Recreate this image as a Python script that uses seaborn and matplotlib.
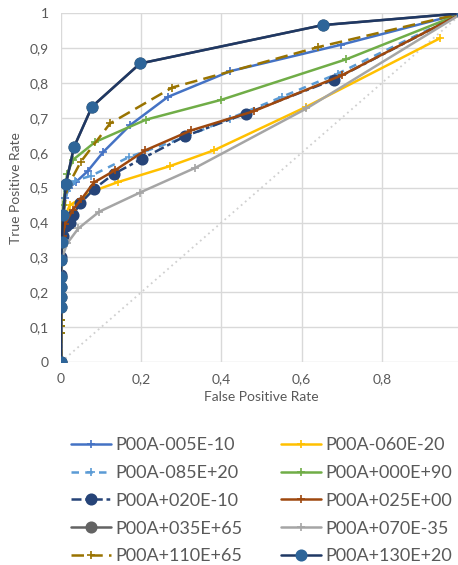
import pandas as pd
import seaborn as sns
import matplotlib.pyplot as plt

# ROC points (x = FPR, y = TPR)
names = ["P00A-005E-10", "P00A-060E-20", "P00A-085E+20", "P00A+000E+90", "P00A+020E-10",
         "P00A+025E+00", "P00A+035E+65", "P00A+070E-35", "P00A+110E+65", "P00A+130E+20"]

fpr_005m10 = [0, 0, 0.003, 0.01, 0.02, 0.038, 0.066, 0.105, 0.172, 0.266, 0.422, 0.699, 1]
tpr_005m10 = [0, 0.3, 0.4, 0.47, 0.5, 0.517, 0.547, 0.602, 0.679, 0.76, 0.834, 0.91, 1]

fpr_060m20 = [0, 0, 0.01, 0.022, 0.08, 0.142, 0.272, 0.381, 0.61, 0.946]
tpr_060m20 = [0, 0.3, 0.42, 0.45, 0.49, 0.516, 0.562, 0.607, 0.731, 0.929]

fpr_085p20 = [0, 0, 0.005, 0.015, 0.035, 0.075, 0.17, 0.305, 0.42, 0.55, 0.69, 1]
tpr_085p20 = [0, 0.3, 0.42, 0.49, 0.52, 0.534, 0.588, 0.643, 0.698, 0.76, 0.827, 1]

fpr_000p90 = [0, 0, 0, 0, 0.002, 0.005, 0.015, 0.03, 0.085, 0.212, 0.4, 0.711, 1]
tpr_000p90 = [0, 0.083, 0.103, 0.12, 0.3, 0.45, 0.54, 0.58, 0.631, 0.695, 0.752, 0.868, 1]

fpr_020m10 = [0, 0, 0, 0.005, 0.012, 0.022, 0.029, 0.048, 0.083, 0.131, 0.202, 0.31, 0.46, 0.681, 1]
tpr_020m10 = [0, 0.25, 0.3, 0.36, 0.39, 0.4, 0.421, 0.455, 0.497, 0.539, 0.583, 0.648, 0.712, 0.81, 1]

fpr_025p00 = [0, 0, 0, 0.004, 0.01, 0.029, 0.05, 0.082, 0.135, 0.21, 0.324, 0.48, 0.7, 1]
tpr_025p00 = [0, 0.24, 0.3, 0.36, 0.397, 0.436, 0.466, 0.515, 0.55, 0.607, 0.664, 0.719, 0.822, 1]

fpr_035p65 = [0, 0, 0, 0, 0, 0, 0.002, 0.005, 0.012, 0.032, 0.077, 0.197, 0.652, 1]
tpr_035p65 = [0, 0.158, 0.185, 0.214, 0.245, 0.292, 0.345, 0.421, 0.51, 0.616, 0.732, 0.856, 0.966, 1]

fpr_070m35 = [0, 0, 0.002, 0.015, 0.043, 0.095, 0.197, 0.335, 0.612, 1]
tpr_070m35 = [0, 0.25, 0.297, 0.34, 0.383, 0.431, 0.486, 0.557, 0.727, 1]

fpr_110p65 = [0, 0, 0, 0, 0, 0.005, 0.015, 0.049, 0.122, 0.277, 0.641, 1]
tpr_110p65 = [0, 0.083, 0.103, 0.12, 0.3, 0.42, 0.5, 0.574, 0.684, 0.787, 0.903, 1]

fpr_130p20 = [0, 0, 0, 0, 0, 0, 0.002, 0.005, 0.012, 0.032, 0.077, 0.197, 0.652, 1]
tpr_130p20 = [0, 0.158, 0.185, 0.214, 0.245, 0.292, 0.345, 0.421, 0.51, 0.616, 0.732, 0.856, 0.966, 1]

fpr_all = [fpr_005m10, fpr_060m20, fpr_085p20, fpr_000p90, fpr_020m10,
           fpr_025p00, fpr_035p65, fpr_070m35, fpr_110p65, fpr_130p20]
tpr_all = [tpr_005m10, tpr_060m20, tpr_085p20, tpr_000p90, tpr_020m10,
           tpr_025p00, tpr_035p65, tpr_070m35, tpr_110p65, tpr_130p20]

diag = [0, 1]
xticks = [0, 0.2, 0.4, 0.6, 0.8]
xtick_labels = ["0", "0,2", "0,4", "0,6", "0,8"]
yticks = [0, 0.1, 0.2, 0.3, 0.4, 0.5, 0.6, 0.7, 0.8, 0.9, 1]
ytick_labels = ["0", "0,1", "0,2", "0,3", "0,4", "0,5", "0,6", "0,7", "0,8", "0,9", "1"]

# style per series: color, linestyle, marker, marker color
styles = [
    ("#4472C4", "-", "+", "#4472C4"),
    ("#FFC000", "-", "+", "#FFC000"),
    ("#5B9BD5", (0, (3, 2.5)), "+", "#5B9BD5"),
    ("#70AD47", "-", "+", "#70AD47"),
    ("#264478", (0, (4, 1.5, 1.5, 1.5)), "o", "#264478"),
    ("#9E480E", "-", "+", "#9E480E"),
    ("#636363", "-", "o", "#636363"),
    ("#A5A5A5", "-", "+", "#A5A5A5"),
    ("#997300", (0, (5, 2.5)), "+", "#997300"),
    ("#1F3864", "-", "o", "#2E6599"),
]

sns.set_style("white")
plt.rcParams["font.family"] = ["Lato", "DejaVu Sans"]

fig = plt.figure(figsize=(4.58, 5.65), dpi=100)
ax = fig.add_axes([0.1334, 0.3593, 0.8755, 0.6172])

sns.lineplot(x=diag, y=diag, ax=ax, color="#D0D0D0", linestyle=(0, (1, 2)), linewidth=1.3)

for name, fx, ty, (col, ls, mk, mcol) in zip(names, fpr_all, tpr_all, styles):
    df = pd.DataFrame({"fpr": fx, "tpr": ty})
    ms = 7.5 if mk == "o" else 6
    sns.lineplot(data=df, x="fpr", y="tpr", ax=ax, sort=False, estimator=None,
                 color=col, linestyle=ls, linewidth=1.8, marker=mk, markersize=ms,
                 markeredgewidth=1.2, markerfacecolor=mcol, markeredgecolor=mcol,
                 label=name, legend=False)

ax.set_xlim(0, 1)
ax.set_ylim(0, 1)
ax.set_xticks(xticks)
ax.set_xticklabels(xtick_labels)
ax.set_yticks(yticks)
ax.set_yticklabels(ytick_labels)
ax.grid(True, color="#D9D9D9", linewidth=1)
ax.set_axisbelow(True)
for s in ax.spines.values():
    s.set_visible(False)
ax.tick_params(length=0, labelsize=10, colors="#595959")
ax.tick_params(axis="y", pad=9)
ax.tick_params(axis="x", pad=8)
ax.set_xlabel("False Positive Rate", fontsize=10, color="#595959", labelpad=4)
ax.set_ylabel("True Positive Rate", fontsize=10, color="#595959", labelpad=5)

handles, labels = ax.get_legend_handles_labels()
order = [0, 2, 4, 6, 8, 1, 3, 5, 7, 9]
fig.legend([handles[i] for i in order], [labels[i] for i in order],
           loc="upper left", bbox_to_anchor=(0.155, 0.226), ncol=2, frameon=False,
           fontsize=13, labelcolor="#595959", handlelength=2.2, handletextpad=0.28,
           columnspacing=2.1, labelspacing=0.65, borderaxespad=0, borderpad=0)

fig.savefig("out.png", dpi=100)
